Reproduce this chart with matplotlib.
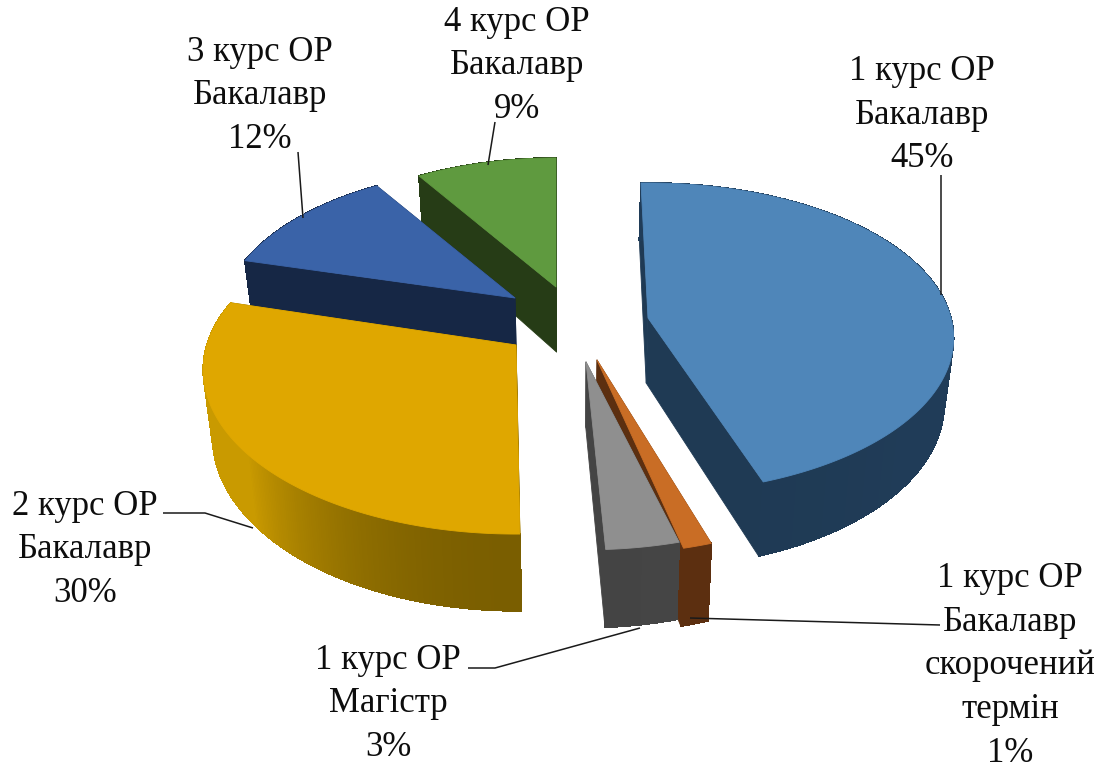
import numpy as np
import matplotlib
matplotlib.use("Agg")
import matplotlib.pyplot as plt
from matplotlib.colors import to_rgb

# ---- data (unrounded estimates that round to the printed labels) ----
categories = ["1 курс ОР\nБакалавр", "1 курс ОР\nБакалавр\nскорочений\nтермін",
              "1 курс ОР\nМагістр", "2 курс ОР\nБакалавр",
              "3 курс ОР\nБакалавр", "4 курс ОР\nБакалавр"]
values = [45.0, 1.25, 3.3, 29.6, 11.8, 9.05]
percent_labels = ["45%", "1%", "3%", "30%", "12%", "9%"]

# ---- style / layout ----
top_colors = ["#4f86b9", "#c96d25", "#8f8f8f", "#dfa700", "#3a63a8", "#5f9a3f"]
wall_near = ["#1f3a54", "#5c2f10", "#444444", "#7a5e00", "#162745", "#263c16"]
wall_far = ["#203c58", "#5c2f10", "#555555", "#c99a00", "#162745", "#263c16"]
apex = [(648, 318), (597, 360), (586, 362), (516, 345), (515, 298), (556, 287)]
radius_scale = [1.0, 1.03, 1.0, 1.02, 0.96, 0.95]
rotate_deg = [0.0, 1.6, 0.0, 2.5, 1.5, 1.5]
persp = [0.13, 0.164, 0.164, 0.15, 0.164, 0.164]
height_b = [152.6, 157.0, 157.0, 157.0, 157.0, 157.0]
start_deg = -1.5
A, DEPTH = 303.0, 65.0
VIEW_X, BOTTOM_SCALE = 575.0, 0.975

label_pos = [(922, 115), (1010, 666), (388, 704), (85, 550), (260, 96), (517, 66)]
leaders = [[(941, 175), (941, 295)],
           [(940, 625), (690, 618)],
           [(468, 668), (495, 668), (640, 628)],
           [(163, 513), (205, 513), (253, 528)],
           [(298, 152), (303, 218)],
           [(495, 122), (488, 165)]]

fig = plt.figure(figsize=(11.01, 7.69), dpi=100)
ax = fig.add_axes([0, 0, 1, 1])
ax.set_xlim(0, 1101)
ax.set_ylim(769, 0)
ax.axis("off")


def project(i, ang_deg):
    """Plan position on the unit disc -> screen, with mild perspective."""
    t = np.radians(ang_deg)
    r = radius_scale[i]
    X, Y = r * np.sin(t), r * np.cos(t)
    s = 1.0 / (1.0 + persp[i] * Y)
    return apex[i][0] + A * X * s, apex[i][1] - height_b[i] * Y * s, DEPTH * s


def low(x):
    """Lower rim converges slightly toward the middle of the view."""
    return VIEW_X + (x - VIEW_X) * BOTTOM_SCALE


def poly(xs, ys, color, z, aa=True):
    ax.fill(xs, ys, facecolor=color, edgecolor=color, lw=0.6, zorder=z,
            joinstyle="round", antialiased=aa)


total = sum(values)
edges = start_deg + np.concatenate([[0], np.cumsum(values)]) / total * 360.0
draw_order = [5, 4, 3, 1, 2, 0]

for z, i in enumerate(draw_order):
    base = 10 * (z + 1)
    a0, a1 = edges[i] + rotate_deg[i], edges[i + 1] + rotate_deg[i]
    c = apex[i]
    angs = np.linspace(a0, a1, max(int(a1 - a0) * 2, 6))
    px, py, pd = np.array([project(i, a) for a in angs]).T

    # radial walls
    for a in (a0, a1):
        qx, qy, qd = project(i, a)
        poly([c[0], qx, low(qx), low(c[0])], [c[1], qy, qy + qd, c[1] + DEPTH],
             wall_near[i], base)

    # outer curved wall, shaded in strips
    near = np.array(to_rgb(wall_near[i]))
    far = np.array(to_rgb(wall_far[i]))
    for k in range(len(angs) - 1):
        m = 0.5 * (angs[k] + angs[k + 1])
        f = np.clip((180 - np.cos(np.radians(m - 180)) * 180) / 70.0, 0, 1)
        col = near + (far - near) * f
        poly([px[k], px[k + 1], low(px[k + 1]), low(px[k])],
             [py[k], py[k + 1], py[k + 1] + pd[k + 1], py[k] + pd[k]],
             tuple(col), base + 1, aa=False)

    # top face
    poly(np.r_[c[0], px], np.r_[c[1], py], top_colors[i], base + 2)

# leader lines
for pts in leaders:
    xs, ys = zip(*pts)
    ax.plot(xs, ys, color="#1a1a1a", lw=1.1, zorder=200, solid_capstyle="butt")

# labels
for cat, pct, (x, y) in zip(categories, percent_labels, label_pos):
    ax.text(x, y, cat + "\n" + pct, ha="center", va="center", multialignment="center",
            family="Liberation Serif", fontsize=25, color="#0d0d0d",
            linespacing=1.43, zorder=300)

fig.savefig("out.png", dpi=100)
